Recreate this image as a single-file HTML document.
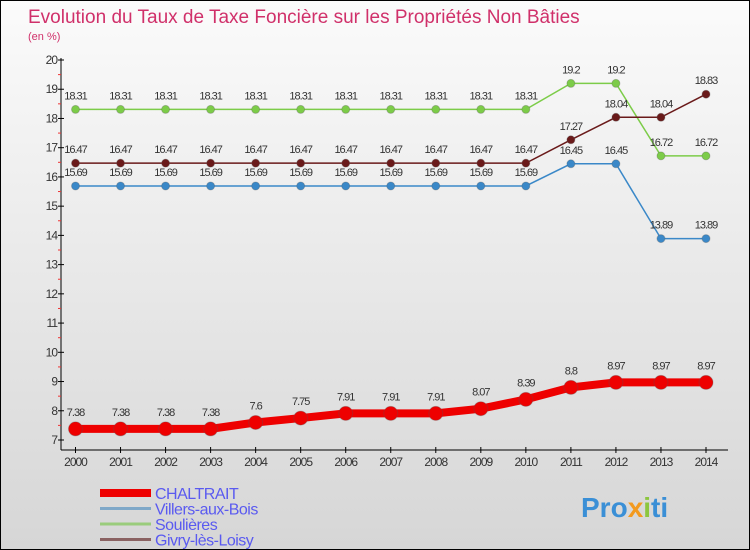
<!DOCTYPE html>
<html><head><meta charset="utf-8"><style>
body{margin:0;width:750px;height:550px;overflow:hidden;font-family:"Liberation Sans",sans-serif}
#c{position:absolute;left:0;top:0;width:748px;height:548px;border:1px solid #000;background:linear-gradient(#fbfbfb,#d6d6d6)}
</style></head><body>
<div id="c">
<svg id="s" width="750" height="550" style="position:absolute;left:-1px;top:-1px">
<text x="28" y="23" font-size="19" fill="#d0306a">Evolution du Taux de Taxe Foncière sur les Propriétés Non Bâties</text>
<text x="28" y="40" font-size="11" fill="#d0306a">(en %)</text>
<g id="g"></g>
<text x="581" y="517" font-size="28" font-weight="bold" fill="#3a8fd6">Pro<tspan fill="#f39a1e">x</tspan><tspan fill="#8cc63f">i</tspan>ti</text>
</svg></div>
<script>
const years=[2000,2001,2002,2003,2004,2005,2006,2007,2008,2009,2010,2011,2012,2013,2014];
const yTicks=[7,8,9,10,11,12,13,14,15,16,17,18,19,20];
const chaltrait=[7.38,7.38,7.38,7.38,7.6,7.75,7.91,7.91,7.91,8.07,8.39,8.8,8.97,8.97,8.97];
const villers=[15.69,15.69,15.69,15.69,15.69,15.69,15.69,15.69,15.69,15.69,15.69,16.45,16.45,13.89,13.89];
const soulieres=[18.31,18.31,18.31,18.31,18.31,18.31,18.31,18.31,18.31,18.31,18.31,19.2,19.2,16.72,16.72];
const givry=[16.47,16.47,16.47,16.47,16.47,16.47,16.47,16.47,16.47,16.47,16.47,17.27,18.04,18.04,18.83];
const NS="http://www.w3.org/2000/svg",g=document.getElementById('g');
const X=i=>75.5+i*(706-75.5)/14, Y=v=>440-(v-7)*(380/13);
function el(t,a,p){const e=document.createElementNS(NS,t);for(const k in a)e.setAttribute(k,a[k]);(p||g).appendChild(e);return e;}
let e=el('line',{x1:61,y1:58,x2:61,y2:450,stroke:'#000'});


e=el('line',{x1:61,y1:450,x2:728,y2:450,stroke:'#000'});


yTicks.forEach(v=>{
 el('line',{x1:58,x2:64,y1:Y(v),y2:Y(v),stroke:'#000'});
 if(v<20)el('line',{x1:58,x2:61,y1:Y(v+0.5),y2:Y(v+0.5),stroke:'#e33'});
 const t=el('text',{x:57,y:Y(v)+4,'font-size':12,fill:'#333','text-anchor':'end','letter-spacing':'-1'});t.textContent=v;
 
 
});
years.forEach((y,i)=>{
 el('line',{x1:X(i),x2:X(i),y1:447,y2:453,stroke:'#000'});
 const t=el('text',{x:X(i),y:466,'font-size':12,fill:'#333','text-anchor':'middle','letter-spacing':'-1'});t.textContent=y;
 
 
});
function series(d,col,w,r,name){
 const p=el('polyline',{points:d.map((v,i)=>X(i)+','+Y(v)).join(' '),fill:'none',stroke:col,'stroke-width':w});
 
 
 d.forEach((v,i)=>{
  const c=el('circle',{cx:X(i),cy:Y(v),r:r,fill:col,stroke:'#555','stroke-opacity':0.3});
  
  
  const t=el('text',{x:X(i),y:Y(v)-(r+6),'font-size':11,fill:'#333','text-anchor':'middle','letter-spacing':'-1'});t.textContent=v;
  
  
 });
}
series(villers,'#3a88c8',1.5,4,'villers');
series(soulieres,'#7ccc48',1.5,4,'soulieres');
series(givry,'#6a1a1a',1.5,4,'givry');
series(chaltrait,'#ee0000',8,7,'chaltrait');
const leg=[['CHALTRAIT','#ee0000',8],['Villers-aux-Bois','#7fa8c8',3],['Soulières','#9acc7c',3],['Givry-lès-Loisy','#8a6262',3]];
leg.forEach((l,i)=>{
 const y=493+i*15.5;
 const ln=el('line',{x1:100,x2:151,y1:y,y2:y,stroke:l[1],'stroke-width':l[2]});
 
 
 const t=el('text',{x:155,y:y+6,'font-size':16,fill:'#5a5af0','letter-spacing':'-0.5'});t.textContent=l[0];
 
 
});
</script>
</body></html>
